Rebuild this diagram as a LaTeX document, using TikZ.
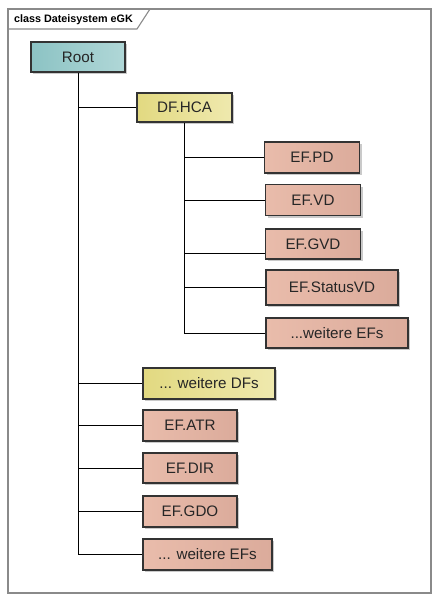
\documentclass[tikz,border=0pt]{standalone}
\usepackage{fontspec}
\setmainfont{Liberation Sans}
\usetikzlibrary{shadows}
\definecolor{rootl}{HTML}{8CC3C4}
\definecolor{rootr}{HTML}{B0D7D7}
\definecolor{dfl}{HTML}{E2D981}
\definecolor{dfr}{HTML}{EFE9AE}
\definecolor{efl}{HTML}{E9BCAB}
\definecolor{efr}{HTML}{DBAB9B}
\definecolor{frm}{HTML}{8A8A8A}
\tikzset{b/.style={draw=black!80,line width=1.1pt,minimum height=31pt,inner sep=0pt,
  text=black!85,font=\fontsize{15.2}{15.2}\selectfont,
  drop shadow={shadow xshift=2pt,shadow yshift=-2pt,opacity=0.35,fill=black!60}}}
\tikzset{rt/.style={b,left color=rootl,right color=rootr}}
\tikzset{df/.style={b,left color=dfl,right color=dfr}}
\tikzset{ef/.style={b,left color=efl,right color=efr}}
\tikzset{c/.style={line width=0.9pt}}

\begin{document}
\begin{tikzpicture}[x=1pt,y=-1pt]
        \useasboundingbox (0,0) rectangle (439,600);
        % frame
        \draw[frm,line width=1.4pt] (8,9) rectangle (431,593);
        \draw[frm,line width=1.1pt] (8,29) -- (137,29) -- (150,9);
        \node[font=\bfseries\fontsize{10.8}{10.8}\selectfont] (title) at (73.5,19.5) {class Dateisystem eGK};
        % boxes
        \node[rt,minimum width=94pt,minimum height=30pt] (root) at (78,57) {Root};
        \node[df,minimum width=95pt,minimum height=29pt] (hca) at (184.5,107.5) {DF.HCA};
        \node[ef,minimum width=95pt] (pd) at (312,157.5) {EF.PD};
        \node[ef,minimum width=95pt] (vd) at (313,200) {EF.VD};
        \node[ef,minimum width=95pt,minimum height=30pt] (gvd) at (313,244) {EF.GVD};
        \node[ef,minimum width=132pt,minimum height=35pt] (svd) at (332,287.5) {EF.StatusVD};
        \node[ef,minimum width=142pt,minimum height=30pt] (wef) at (337,333) {...weitere EFs};
        \node[df,minimum width=132pt] (wdf) at (209,383.5) {... weitere DFs};
        \node[ef,minimum width=94pt] (atr) at (190,425.5) {EF.ATR};
        \node[ef,minimum width=94pt,minimum height=30pt] (dir) at (190,468) {EF.DIR};
        \node[ef,minimum width=94pt] (gdo) at (190,511.5) {EF.GDO};
        \node[ef,minimum width=129pt] (wefs) at (207.5,554.5) {... weitere EFs};
        % tree lines
        \draw[c] (root.south) -- (root.south |- wefs.west) -- (wefs.west);
        \foreach \n in {hca,wdf,atr,dir,gdo}
          \draw[c] (root.south |- \n.west) -- (\n.west);
        \draw[c] (hca.south) -- (hca.south |- wef.west) -- (wef.west);
        \foreach \n in {pd,vd,svd}
          \draw[c] (hca.south |- \n.west) -- (\n.west);
        \draw[c] (hca.south |- gvd.south west) ++(0,-6) -- ([yshift=6pt]gvd.south west);
      \end{tikzpicture}
\end{document}
